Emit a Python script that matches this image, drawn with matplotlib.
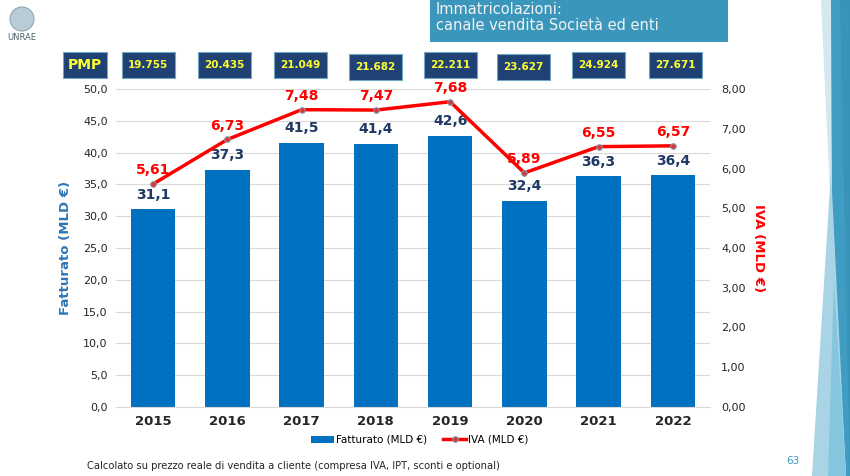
import matplotlib
matplotlib.use("Agg")
import matplotlib.pyplot as plt
from matplotlib.patches import Rectangle, Polygon, Ellipse
import numpy as np

anni = ["2015", "2016", "2017", "2018", "2019", "2020", "2021", "2022"]
fatturato = [31.1, 37.3, 41.5, 41.4, 42.6, 32.4, 36.3, 36.4]
iva = [5.61, 6.73, 7.48, 7.47, 7.68, 5.89, 6.55, 6.57]
pmp = ["19.755", "20.435", "21.049", "21.682", "22.211", "23.627", "24.924", "27.671"]

def virgola(v, dec):
    return f"{v:.{dec}f}".replace(".", ",")

W, H = 850, 476
fig = plt.figure(figsize=(8.5, 4.76), dpi=100)
fig.patch.set_facecolor("white")

def px(x, y):
    # pixel -> coordinate figura
    return x / W, 1 - y / H

# decorazione a destra
deco = [
    ([(821, 0), (833, 0), (831, 210), (826, 110)], "#d3e8f1"),
    ([(831, 0), (850, 0), (850, 476), (846, 476), (832, 240)], "#3f9cc3"),
    ([(831, 170), (846, 476), (812, 476)], "#a8d4e6"),
    ([(834, 280), (846, 476), (828, 476)], "#86c5de"),
    ([(840, 0), (850, 0), (850, 476)], "#3a93b8"),
]
for pts, col in deco:
    fig.patches.append(Polygon([px(*p) for p in pts], closed=True, transform=fig.transFigure,
                               facecolor=col, edgecolor="none", zorder=0))

# logo
fig.patches.append(Ellipse(px(22, 19), 24 / W, 24 / H, transform=fig.transFigure,
                           facecolor="#b9ccd6", edgecolor="#8fa9b6", lw=0.8))
fig.text(*px(22, 38), "UNRAE", fontsize=6, color="#50636e", ha="center", va="center")

# titolo
fig.patches.append(Rectangle(px(430, 42), 298 / W, 42 / H, transform=fig.transFigure,
                             facecolor="#3a97bb", edgecolor="none"))
fig.text(*px(436, 10), "Immatricolazioni:", fontsize=10.5, color="#f2f2f2", va="center")
fig.text(*px(436, 26), "canale vendita Società ed enti", fontsize=10.5, color="#f2f2f2", va="center")

# box PMP
def box(cx, cy, w, h, testo, fs):
    fig.patches.append(Rectangle(px(cx - w / 2, cy + h / 2), w / W, h / H, transform=fig.transFigure,
                                 facecolor="#1f4173", edgecolor="#6fa8c0", lw=0.8))
    fig.text(*px(cx, cy), testo, fontsize=fs, color="#ffff33", fontweight="bold",
             ha="center", va="center")

box(85, 65, 44, 26, "PMP", 10)
centri = [148, 224, 300, 375, 450, 523, 598, 675]
dy = [0, 0, 0, 2, 0, 2, 0, 0]
for c, t, d in zip(centri, pmp, dy):
    box(c, 65 + d, 53, 26, t, 7.5)

# grafico
ax = fig.add_axes([116 / W, 1 - 407 / H, 594 / W, 318 / H])
x = np.arange(len(anni))
barre = ax.bar(x, fatturato, width=0.6, color="#0070c0", zorder=2)
ax.set_ylim(0, 50)
ax.set_xlim(-0.5, len(anni) - 0.5)
ax.set_yticks(np.arange(0, 51, 5))
ax.set_yticklabels([virgola(v, 1) for v in np.arange(0, 51, 5)], fontsize=8, color="#262626")
ax.set_xticks(x)
ax.set_xticklabels(anni, fontsize=9.5, fontweight="bold", color="#262626")
ax.grid(axis="y", color="#d9d9d9", lw=0.8, zorder=0)
for s in ["top", "right", "left"]:
    ax.spines[s].set_visible(False)
ax.spines["bottom"].set_color("#d9d9d9")
ax.tick_params(length=0, pad=6)
ax.set_ylabel("Fatturato (MLD €)", fontsize=9.5, fontweight="bold", color="#2e75b6", labelpad=8)

for xi, v in zip(x, fatturato):
    ax.text(xi, v + 1.2, virgola(v, 1), ha="center", va="bottom", fontsize=10,
            color="#1f3864", fontweight="bold")

ax2 = ax.twinx()
ax2.set_ylim(0, 8)
ax2.set_yticks(np.arange(0, 9, 1))
ax2.set_yticklabels([virgola(v, 2) for v in np.arange(0, 9, 1)], fontsize=8, color="#262626")
for s in ax2.spines.values():
    s.set_visible(False)
ax2.tick_params(length=0, pad=8)
linea, = ax2.plot(x, iva, color="#ff0000", lw=2.5, marker="o", markersize=4,
                  markerfacecolor="#e03030", markeredgecolor="#7f9faf", markeredgewidth=0.8, zorder=3)
for xi, v in zip(x, iva):
    ax2.text(xi, v + 0.17, virgola(v, 2), ha="center", va="bottom", fontsize=10,
             color="#ff0000", fontweight="bold")
ax2.set_ylabel("IVA (MLD €)", fontsize=9.5, fontweight="bold", color="#ff0000",
               rotation=270, labelpad=14)

fig.legend([barre, linea], ["Fatturato (MLD €)", "IVA (MLD €)"], loc="center",
           bbox_to_anchor=px(420, 440), ncol=2, frameon=False, fontsize=7.5,
           handlelength=2.2, handletextpad=0.2, columnspacing=1.5)

fig.text(*px(87, 466), "Calcolato su prezzo reale di vendita a cliente (compresa IVA, IPT, sconti e optional)",
         fontsize=7.2, color="#262626", va="center")
fig.text(*px(793, 461), "63", fontsize=7.5, color="#3a97bb", ha="center", va="center")

fig.savefig("out.png", dpi=100)
